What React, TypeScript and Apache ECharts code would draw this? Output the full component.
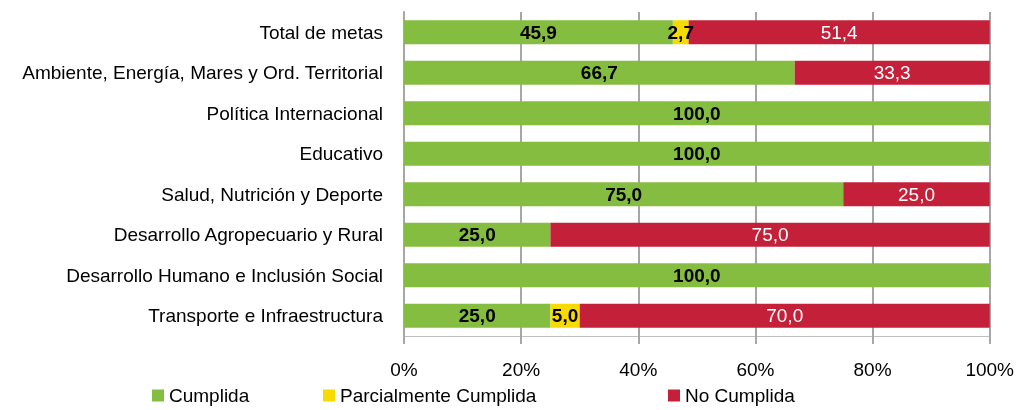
import React, { useEffect, useRef } from "react";
import * as echarts from "echarts";

const categories = [
  "Total de metas",
  "Ambiente, Energía, Mares y Ord. Territorial",
  "Política Internacional",
  "Educativo",
  "Salud, Nutrición y Deporte",
  "Desarrollo Agropecuario y Rural",
  "Desarrollo Humano e Inclusión Social",
  "Transporte e Infraestructura",
];
const cumplida = [45.9, 66.7, 100, 100, 75, 25, 100, 25];
const parcial = [2.7, null, null, null, null, null, null, 5];
const noCumplida = [51.4, 33.3, null, null, 25, 75, null, 70];
const seriesNames = ["Cumplida", "Parcialmente Cumplida", "No Cumplida"];
const colors = ["#84BD3F", "#F7DA00", "#C4203A"];

const FONT = "'Liberation Sans', Arial, sans-serif";
const FS = 19;
const fmt = (p: any) => (p.value == null ? "" : Number(p.value).toFixed(1).replace(".", ","));

export default function App() {
  const ref = useRef<HTMLDivElement>(null);
  useEffect(() => {
    const chart = echarts.init(ref.current!, null, { renderer: "svg" });
    const mk = (name: string, data: any[], color: string, labelColor: string, bold: boolean) => ({
      name,
      type: "bar",
      stack: "total",
      data,
      barWidth: 24,
      itemStyle: { color },
      label: {
        show: true,
        position: "inside",
        formatter: fmt,
        color: labelColor,
        fontFamily: FONT,
        fontSize: FS,
        fontWeight: bold ? "bold" : "normal",
      },
    });
    const legendBase = {
      top: 381,
      itemWidth: 12,
      itemHeight: 12,
      icon: "rect",
      itemGap: 5,
      textStyle: { fontFamily: FONT, fontSize: FS, color: "#000" },
    };
    chart.setOption({
      animation: false,
      grid: { left: 404, right: 26, top: 12, bottom: 74 },
      legend: [
        { ...legendBase, left: 147, data: [seriesNames[0]] },
        { ...legendBase, left: 318, data: [seriesNames[1]] },
        { ...legendBase, left: 663, data: [seriesNames[2]] },
      ],
      xAxis: {
        type: "value",
        min: 0,
        max: 100,
        interval: 20,
        axisLine: { show: true, lineStyle: { color: "#BFBFBF", width: 1 } },
        axisTick: { show: true, length: 8, lineStyle: { color: "#A6A6A6", width: 2 } },
        splitLine: { show: true, lineStyle: { color: "#A6A6A6", width: 2 } },
        axisLabel: {
          formatter: "{value}%",
          fontFamily: FONT,
          fontSize: FS,
          color: "#000",
          margin: 24,
        },
      },
      yAxis: {
        type: "category",
        data: categories,
        inverse: true,
        axisLine: { show: true, lineStyle: { color: "#A6A6A6", width: 2 } },
        axisTick: { show: false },
        axisLabel: { fontFamily: FONT, fontSize: FS, color: "#000", margin: 21 },
      },
      series: [
        mk(seriesNames[0], cumplida, colors[0], "#000", true),
        mk(seriesNames[1], parcial, colors[1], "#000", true),
        mk(seriesNames[2], noCumplida, colors[2], "#fff", false),
      ],
    });
    return () => chart.dispose();
  }, []);
  return (
    <div
      ref={ref}
      style={{ position: "fixed", left: 0, top: 0, width: 1017, height: 410 }}
    />
  );
}
